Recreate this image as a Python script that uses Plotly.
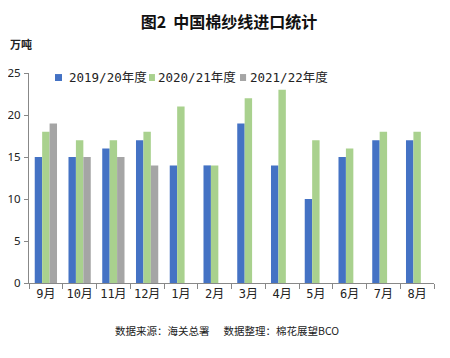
import plotly.graph_objects as go

months = ["9月", "10月", "11月", "12月", "1月", "2月", "3月", "4月", "5月", "6月", "7月", "8月"]
s1920 = [15, 15, 16, 17, 14, 14, 19, 14, 10, 15, 17, 17]
s2021 = [18, 17, 17, 18, 21, 14, 22, 23, 17, 16, 18, 18]
s2122 = [19, 15, 15, 14, None, None, None, None, None, None, None, None]
names = ["2019/20年度", "2020/21年度", "2021/22年度"]
colors = ["#4472C4", "#A9D18E", "#A5A5A5"]

tick_font = "DejaVu Sans Mono, Noto Sans CJK SC, sans-serif"
cjk_font = "Noto Sans CJK SC, sans-serif"

fig = go.Figure()
for name, vals, c in zip(names, [s1920, s2021, s2122], colors):
    fig.add_trace(go.Bar(x=months, y=vals, name=name, marker_color=c, marker_line_width=0,
                         showlegend=False))

# page body has an 8px default margin, so the figure is sized/offset to compensate
fig.update_layout(
    width=442, height=350,
    margin=dict(l=21, r=16, t=65, b=75),
    paper_bgcolor="white", plot_bgcolor="white",
    barmode="group", bargap=0.34, bargroupgap=0,
    font=dict(family=tick_font, size=12, color="#222"),
    title=dict(text="<b>图2  中国棉纱线进口统计</b>", x=0.5, xanchor="center", y=0.96, yanchor="middle",
               font=dict(size=16, color="#111", family=cjk_font)),
)
fig.update_xaxes(showline=True, linecolor="#888", linewidth=1, ticks="outside", tickson="boundaries",
                 ticklen=5, tickcolor="#888", showgrid=False, tickangle=0, automargin=False,
                 tickfont=dict(size=12, color="#222"))
fig.update_yaxes(range=[0, 25], dtick=5, showline=True, linecolor="#888", linewidth=1, ticks="outside",
                 ticklen=4, tickcolor="#888", showgrid=False, zeroline=False, automargin=False,
                 ticklabelstandoff=1,
                 tickfont=dict(size=11.5, color="#222", family="Noto Sans, sans-serif"))

# legend drawn as small squares + labels
leg_sq = [(0.0642, 0.0815), (0.2963, 0.311), (0.521, 0.536)]
leg_tx = [0.0988, 0.3185, 0.5457]
for (x0, x1), tx, name, c in zip(leg_sq, leg_tx, names, colors):
    fig.add_shape(type="rect", xref="paper", yref="paper", x0=x0, x1=x1, y0=0.962, y1=0.995,
                  fillcolor=c, line_width=0)
    fig.add_annotation(text=name, xref="paper", yref="paper", x=tx, y=0.978, xanchor="left",
                       yanchor="middle", showarrow=False, xshift=-2,
                       font=dict(size=12.5, color="#222", family=tick_font))

fig.add_annotation(text="<b>万吨</b>", xref="paper", yref="paper", x=-0.052, y=1.14, xanchor="left",
                   yanchor="middle", showarrow=False, font=dict(size=11, color="#222", family=cjk_font))
fig.add_annotation(text="数据来源：海关总署      数据整理：棉花展望BCO", xref="paper", yref="paper",
                   x=0.49, y=-0.224, xanchor="center", yanchor="middle", showarrow=False,
                   font=dict(size=10.5, color="#222", family=cjk_font))

fig.write_html("out.html")
